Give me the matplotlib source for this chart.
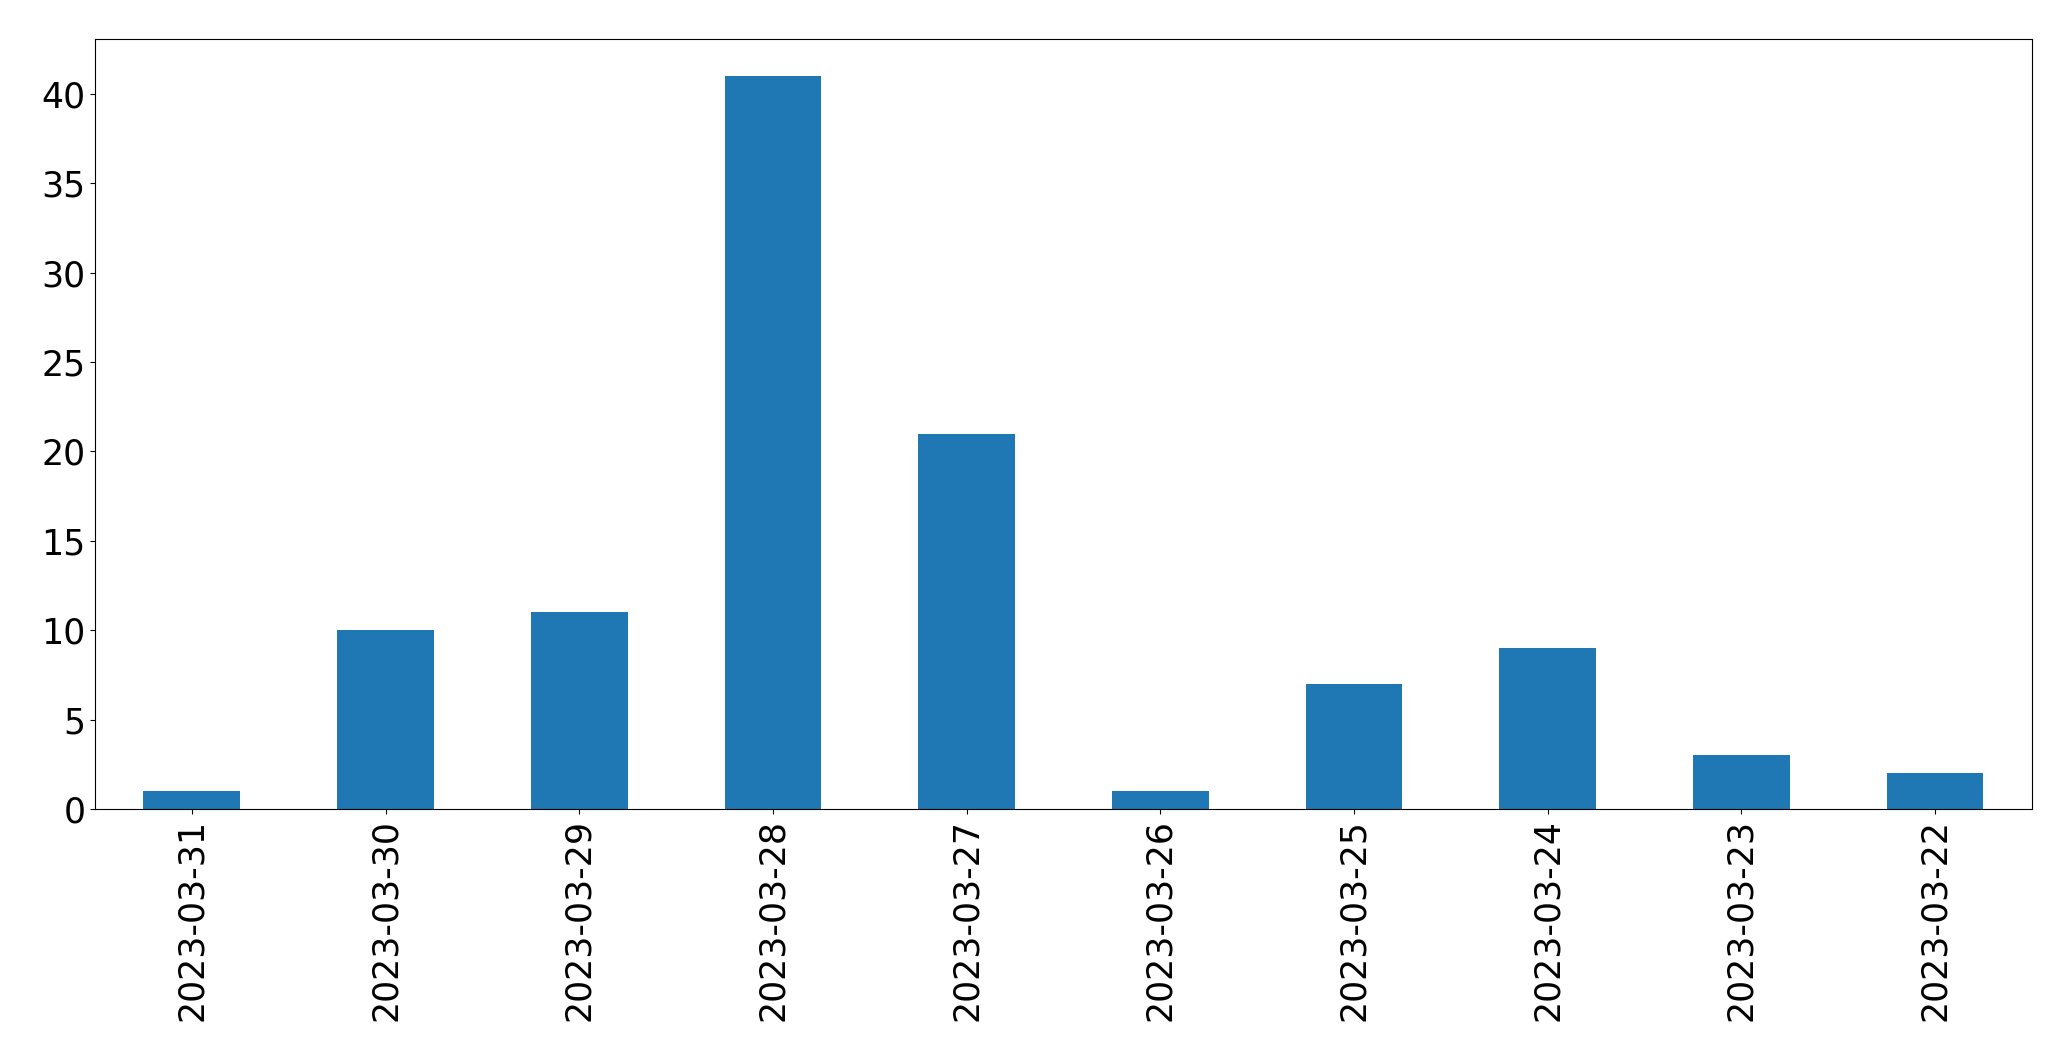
import numpy as np
import matplotlib
matplotlib.use('Agg')
import matplotlib.pyplot as plt

dates = ['2023-03-31', '2023-03-30', '2023-03-29', '2023-03-28', '2023-03-27',
         '2023-03-26', '2023-03-25', '2023-03-24', '2023-03-23', '2023-03-22']
counts = [1, 10, 11, 41, 21, 1, 7, 9, 3, 2]

fig = plt.figure(figsize=(20.71, 10.61), dpi=100)
ax = fig.add_axes([0.0459, 0.2375, 0.9352, 0.7255])

x = np.arange(len(dates))
ax.bar(x, counts, width=0.5, color='#1f77b4')
ax.set_xlim(-0.5, len(dates) - 0.5)
ax.set_xticks(x)
ax.set_xticklabels(dates, rotation=90, fontsize=25)
ax.tick_params(axis='y', labelsize=25)

fig.savefig('out.png', dpi=100)
